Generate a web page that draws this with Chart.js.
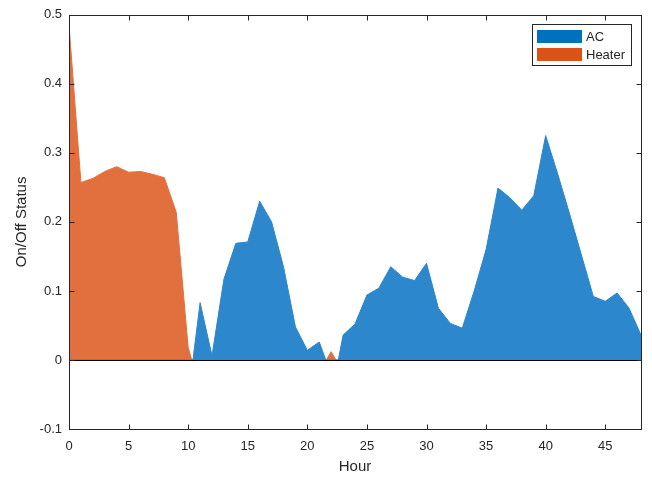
<!DOCTYPE html>
<html>
<head>
<meta charset="utf-8">
<script src="https://cdn.jsdelivr.net/npm/chart.js@4.4.1/dist/chart.umd.min.js"></script>
<style>
  html, body { margin: 0; padding: 0; background: #ffffff; }
  #wrap { width: 652px; height: 477px; }
</style>
</head>
<body>
<div id="wrap"><canvas id="grafico" width="652" height="477"></canvas></div>
<script>
// dados (hora -> status)
const acHours = [0, 10.4, 11, 12, 13, 14, 15, 16, 17, 18, 19, 20, 21, 21.55, 22.6, 23, 24, 25, 26, 27, 28, 29, 30, 31, 32, 33, 34, 35, 36, 37, 38, 39, 40, 41, 42, 43, 44, 45, 46, 47, 48];
const acValues = [0, 0, 0.083, 0.006, 0.117, 0.169, 0.171, 0.23, 0.2, 0.135, 0.048, 0.014, 0.026, 0, 0, 0.036, 0.052, 0.094, 0.104, 0.135, 0.12, 0.115, 0.14, 0.075, 0.053, 0.046, 0.1, 0.16, 0.249, 0.235, 0.217, 0.238, 0.325, 0.27, 0.212, 0.152, 0.092, 0.085, 0.097, 0.075, 0.036];

const heaterHours = [0, 1, 2, 3, 4, 5, 6, 7, 8, 9, 10, 10.3, 21.6, 22, 22.4, 48];
const heaterValues = [0.485, 0.257, 0.263, 0.273, 0.28, 0.272, 0.273, 0.269, 0.264, 0.214, 0.018, 0, 0, 0.012, 0, 0];

const seriesNames = ['AC', 'Heater'];
const xTicks = [0, 5, 10, 15, 20, 25, 30, 35, 40, 45];
const yTicks = [-0.1, 0, 0.1, 0.2, 0.3, 0.4, 0.5];

const corTexto = '#262626';
const fonte = "'Liberation Sans', Arial, sans-serif";
const legendaCores = ['#0072BD', '#D95319'];

function pontos(xs, ys) {
  return xs.map((x, i) => ({ x: x, y: ys[i] }));
}

// moldura, marcas para dentro, linha do zero e legenda (estilo MATLAB)
const molduraPlugin = {
  id: 'moldura',
  afterDatasetsDraw(chart) {
    const ctx = chart.ctx;
    const a = chart.chartArea;
    const xs = chart.scales.x;
    const ys = chart.scales.y;
    ctx.save();
    ctx.strokeStyle = '#000000';
    ctx.lineWidth = 1;
    const y0 = Math.round(ys.getPixelForValue(0)) + 0.5;
    ctx.beginPath();
    ctx.moveTo(a.left, y0);
    ctx.lineTo(a.right, y0);
    ctx.stroke();
    ctx.restore();
  },
  afterDraw(chart) {
    const ctx = chart.ctx;
    const a = chart.chartArea;
    const xs = chart.scales.x;
    const ys = chart.scales.y;
    const L = Math.round(a.left) + 0.5, R = Math.round(a.right) + 0.5;
    const T = Math.round(a.top) + 0.5, B = Math.round(a.bottom) + 0.5;
    ctx.save();
    ctx.strokeStyle = corTexto;
    ctx.lineWidth = 1;
    ctx.strokeRect(L, T, R - L, B - T);
    ctx.beginPath();
    xTicks.forEach(v => {
      const px = Math.round(xs.getPixelForValue(v)) + 0.5;
      ctx.moveTo(px, B); ctx.lineTo(px, B - 5);
      ctx.moveTo(px, T); ctx.lineTo(px, T + 5);
    });
    yTicks.forEach(v => {
      const py = Math.round(ys.getPixelForValue(v)) + 0.5;
      ctx.moveTo(L, py); ctx.lineTo(L + 5, py);
      ctx.moveTo(R, py); ctx.lineTo(R - 5, py);
    });
    ctx.stroke();

    // legenda
    const bx = 532.5, by = 24.5, bw = 99, bh = 41;
    ctx.fillStyle = '#ffffff';
    ctx.fillRect(bx, by, bw, bh);
    ctx.strokeStyle = '#262626';
    ctx.strokeRect(bx, by, bw, bh);
    ctx.font = '13px ' + fonte;
    ctx.textBaseline = 'middle';
    ctx.textAlign = 'left';
    chart.data.datasets.forEach((ds, i) => {
      const sy = 30 + i * 18;
      ctx.fillStyle = legendaCores[i];
      ctx.fillRect(537, sy, 45, 13);
      ctx.fillStyle = corTexto;
      ctx.fillText(ds.label, 586, sy + 7);
    });
    ctx.restore();
  }
};

const ctx = document.getElementById('grafico').getContext('2d');
const grafico = new Chart(ctx, {
  type: 'line',
  data: {
    datasets: [{
      label: seriesNames[0],
      data: pontos(acHours, acValues),
      borderColor: '#2d87cc',
      backgroundColor: '#2d87cc',
      borderWidth: 1,
      pointRadius: 0,
      tension: 0,
      fill: 'origin'
    }, {
      label: seriesNames[1],
      data: pontos(heaterHours, heaterValues),
      borderColor: '#e2703f',
      backgroundColor: '#e2703f',
      borderWidth: 1,
      pointRadius: 0,
      tension: 0,
      fill: 'origin'
    }]
  },
  options: {
    responsive: false,
    animation: false,
    layout: { padding: { top: 14, right: 11, left: 0, bottom: 0 } },
    plugins: {
      legend: { display: false },
      tooltip: { enabled: false }
    },
    scales: {
      x: {
        type: 'linear',
        min: 0,
        max: 48,
        afterBuildTicks: s => { s.ticks = xTicks.map(v => ({ value: v })); },
        afterFit: s => { s.height = 48; },
        grid: { display: false, drawTicks: false },
        border: { display: false },
        ticks: {
          padding: 10,
          maxRotation: 0,
          color: corTexto,
          font: { family: fonte, size: 13 }
        },
        title: {
          display: true,
          text: 'Hour',
          color: corTexto,
          padding: { top: 0, bottom: 1 },
          font: { family: fonte, size: 15 }
        }
      },
      y: {
        min: -0.1,
        max: 0.5,
        afterBuildTicks: s => { s.ticks = yTicks.map(v => ({ value: v })); },
        afterFit: s => { s.width = 69; },
        grid: { display: false, drawTicks: false },
        border: { display: false },
        ticks: {
          padding: 7,
          color: corTexto,
          font: { family: fonte, size: 13 },
          callback: v => String(Math.round(v * 10) / 10)
        },
        title: {
          display: true,
          text: 'On/Off Status',
          color: corTexto,
          padding: { top: 13, bottom: 0 },
          font: { family: fonte, size: 15 }
        }
      }
    }
  },
  plugins: [molduraPlugin]
});
</script>
</body>
</html>
